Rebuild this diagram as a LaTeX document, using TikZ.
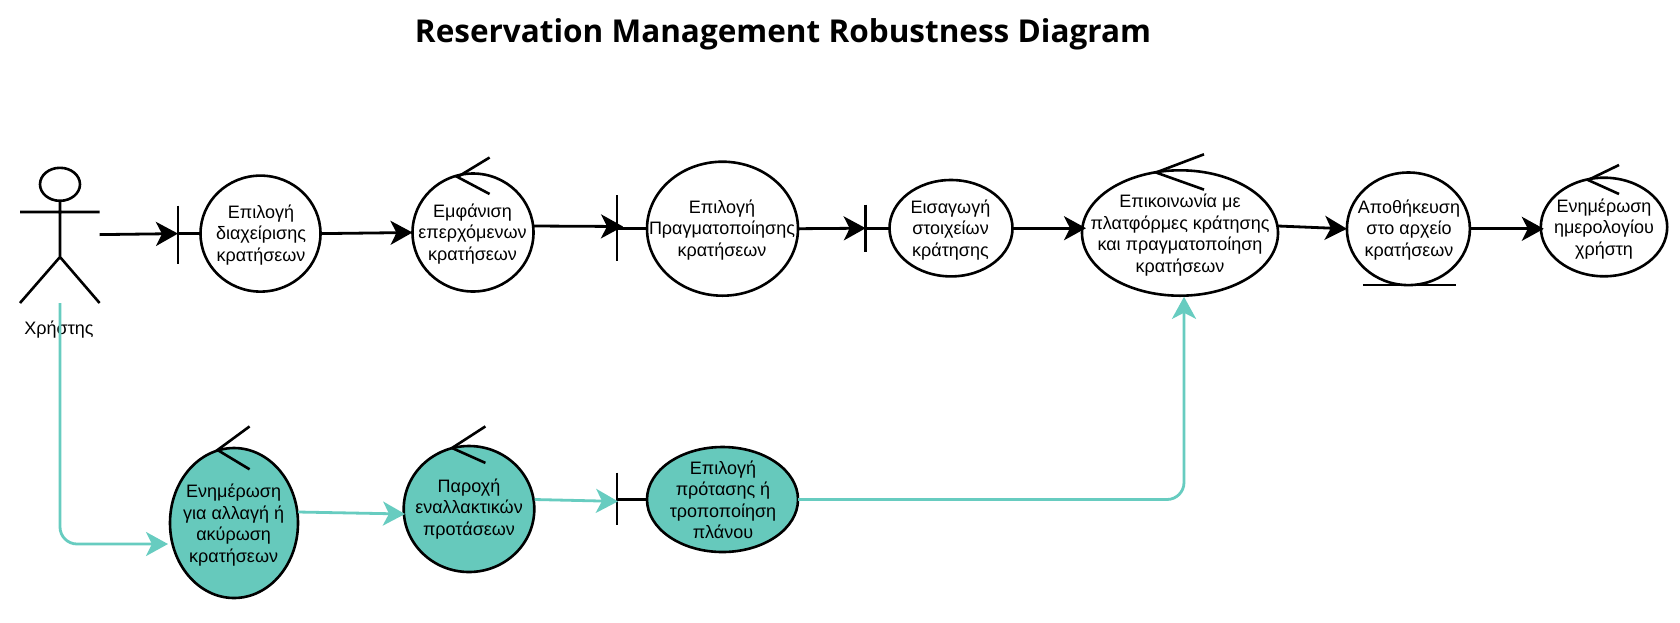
\documentclass[tikz,border=0pt]{standalone}
\usepackage{fontspec}
\setmainfont{Liberation Sans}
\newfontfamily\titlefont{Open Sans}
\usetikzlibrary{shapes.geometric,arrows.meta}
\definecolor{tealc}{HTML}{66C9BC}
\definecolor{tealline}{HTML}{67CCC0}
\tikzset{
  obj/.style={ellipse,draw=black,line width=2.6pt,fill=white,inner sep=0pt,outer sep=0pt},
  objt/.style={obj,fill=tealc},
  lbl/.style={align=center,inner sep=0pt,font=\fontsize{18}{21.5}\selectfont,text=black},
  thin stroke/.style={draw=black,line width=2.6pt},
  flow/.style={draw=black,line width=2.8pt,-{Stealth[length=22pt,width=24pt,inset=6pt]}},
  tflow/.style={draw=tealline,line width=2.8pt,rounded corners=17pt,-{Stealth[length=22pt,width=24pt,inset=6pt]}},
}
\begin{document}
\begin{tikzpicture}[x=1pt,y=-1pt]
\path[use as bounding box,fill=white] (0,0) rectangle (1680,622);
\node[inner sep=0pt,font=\titlefont\bfseries\fontsize{31.5}{36}\selectfont] (title) at (783,34) {Reservation Management Robustness Diagram};

% actor
\node[ellipse,draw=black,line width=2.6pt,inner sep=0pt,outer sep=0pt,minimum width=40pt,minimum height=33pt] (head) at (60,184.3) {};
\coordinate (neck) at (60,212);
\coordinate (armL) at (20,212);
\coordinate (armR) at (99.6,212);
\coordinate (hip) at (60,257);
\coordinate (legL) at (20,303);
\coordinate (legR) at (99.6,303);
\draw[thin stroke] (head.south) -- (hip) (armL) -- (armR) (legL) -- (hip) -- (legR);
\node[lbl] (actor) at (59,330) {Χρήστης};

% objects
\node[obj,minimum width=120pt,minimum height=116pt] (c1) at (260.5,233.6) {};
\node[obj,minimum width=121pt,minimum height=118pt] (c2) at (473,232.5) {};
\node[obj,minimum width=151pt,minimum height=134pt] (c3) at (722.5,228.7) {};
\node[obj,minimum width=123pt,minimum height=96.4pt] (c4) at (951,228.2) {};
\node[obj,minimum width=196pt,minimum height=125.4pt] (c5) at (1180,233) {};
\node[obj,minimum width=123pt,minimum height=112.6pt] (c6) at (1408.4,228.8) {};
\node[obj,minimum width=126.4pt,minimum height=98.6pt] (c7) at (1604,227) {};
\node[objt,minimum width=128pt,minimum height=150pt] (c8) at (234,523) {};
\node[objt,minimum width=130.6pt,minimum height=126pt] (c9) at (469,509) {};
\node[objt,minimum width=151pt,minimum height=105pt] (c10) at (722.5,499.5) {};

% boundary bars
\coordinate (b1t) at (178,205.7); \coordinate (b1b) at (178,263.6); \coordinate (b1m) at (178,233.6);
\coordinate (b2t) at (617,195); \coordinate (b2b) at (617,261.4); \coordinate (b2m) at (617,228.7);
\coordinate (b3t) at (865.7,204.6); \coordinate (b3b) at (865.7,251.8); \coordinate (b3m) at (865.7,228.2);
\coordinate (b4t) at (617,472.5); \coordinate (b4b) at (617,525); \coordinate (b4m) at (617,499.5);
\draw[thin stroke] (b1t) -- (b1b) (b1m) -- (c1.west);
\draw[thin stroke] (b2t) -- (b2b) (b2m) -- (c3.west);
\draw[thin stroke] (b3t) -- (b3b) (b3m) -- (c4.west);
\draw[thin stroke] (b4t) -- (b4b) (b4m) -- (c10.west);

% control arrows
\coordinate (k2a) at (489.6,157.5); \coordinate (k2t) at (457.5,177); \coordinate (k2b) at (489.6,194);
\coordinate (k5a) at (1204,154.3); \coordinate (k5t) at (1156,172.5); \coordinate (k5b) at (1204,189.6);
\coordinate (k7a) at (1619,165); \coordinate (k7t) at (1588,180); \coordinate (k7b) at (1619,194);
\coordinate (k8a) at (249.6,426.4); \coordinate (k8t) at (217.5,450); \coordinate (k8b) at (249.6,469.3);
\coordinate (k9a) at (485.4,426.4); \coordinate (k9t) at (452,448); \coordinate (k9b) at (485.4,462.9);
\draw[thin stroke] (k2a) -- (k2t) -- (k2b);
\draw[thin stroke] (k5a) -- (k5t) -- (k5b);
\draw[thin stroke] (k7a) -- (k7t) -- (k7b);
\draw[thin stroke] (k8a) -- (k8t) -- (k8b);
\draw[thin stroke] (k9a) -- (k9t) -- (k9b);

% entity underline
\coordinate (u1) at (1362.9,285); \coordinate (u2) at (1456,285);
\draw[thin stroke] (u1) -- (u2);

% labels
\node[lbl] (t1) at (261,235) {Επιλογή\\διαχείρισης\\κρατήσεων};
\node[lbl] (t2) at (472.5,234) {Εμφάνιση\\επερχόμενων\\κρατήσεων};
\node[lbl] (t3) at (722,230) {Επιλογή\\Πραγματοποίησης\\κρατήσεων};
\node[lbl] (t4) at (950.5,230) {Εισαγωγή\\στοιχείων\\κράτησης};
\node[lbl] (t5) at (1180,235) {Επικοινωνία με\\πλατφόρμες κράτησης\\και πραγματοποίηση\\κρατήσεων};
\node[lbl] (t6) at (1409,230) {Αποθήκευση\\στο αρχείο\\κρατήσεων};
\node[lbl] (t7) at (1604,229) {Ενημέρωση\\ημερολογίου\\χρήστη};
\node[lbl] (t8) at (233.6,525) {Ενημέρωση\\για αλλαγή ή\\ακύρωση\\κρατήσεων};
\node[lbl] (t9) at (469,509) {Παροχή\\εναλλακτικών\\προτάσεων};
\node[lbl] (t10) at (723,500) {Επιλογή\\πρότασης ή\\τροποποίηση\\πλάνου};

% black flows
\coordinate (a0) at (99.6,234.6);
\coordinate (a2s) at (533.5,226);
\coordinate (a5s) at (1278,226);
\coordinate (a3e) at (623,226.5);
\draw[flow] (a0) -- (b1m);
\draw[flow] (c1.east) -- (c2.west);
\draw[flow] (a2s) -- (a3e);
\draw[flow] (c3.east) -- (b3m);
\draw[flow] (c4.east) -- ([xshift=4pt]c5.west |- c4.east);
\draw[flow] (a5s) -- (c6.west);
\draw[flow] (c6.east) -- ([xshift=3pt]c7.west |- c6.east);

% teal flows
\coordinate (s0) at (60,303);
\coordinate (s0c) at (60,544);
\coordinate (s8) at (168,544);
\coordinate (s8o) at (298,512);
\coordinate (s9i) at (405,514);
\coordinate (s9o) at (534.6,499.5);
\coordinate (s4i) at (618,501.4);
\coordinate (s10c) at (1184,499.5);
\coordinate (s5) at (1184,296.8);
\draw[tflow] (s0) -- (s0c) -- (s8);
\draw[tflow] (s8o) -- (s9i);
\draw[tflow] (s9o) -- (s4i);
\draw[tflow] (c10.east) -- (s10c) -- (s5);
\end{tikzpicture}
\end{document}
